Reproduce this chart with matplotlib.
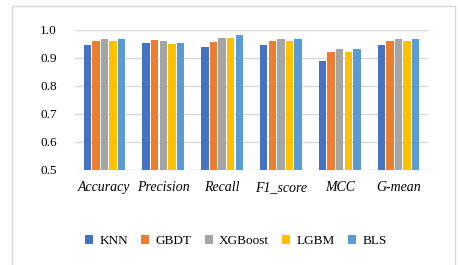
import matplotlib
matplotlib.use("Agg")
import matplotlib.pyplot as plt
import numpy as np
from matplotlib.patches import Rectangle

categories = ["Accuracy", "Precision", "Recall", "F1_score", "MCC", "G-mean"]
models = ["KNN", "GBDT", "XGBoost", "LGBM", "BLS"]
knn = [0.946, 0.954, 0.938, 0.946, 0.890, 0.946]
gbdt = [0.962, 0.964, 0.957, 0.960, 0.920, 0.962]
xgboost = [0.968, 0.961, 0.973, 0.968, 0.932, 0.968]
lgbm = [0.960, 0.949, 0.973, 0.962, 0.920, 0.960]
bls = [0.968, 0.954, 0.983, 0.968, 0.932, 0.968]
series = [knn, gbdt, xgboost, lgbm, bls]
colors = ["#4472C4", "#ED7D31", "#A5A5A5", "#FFC000", "#5B9BD5"]
yticks = [0.5, 0.6, 0.7, 0.8, 0.9, 1.0]

plt.rcParams['font.family'] = ['Liberation Serif', 'DejaVu Serif']

W, H = 458, 265
fig = plt.figure(figsize=(W/100, H/100), dpi=100)
fig.patches.append(Rectangle((12/W, -0.1), (455-12)/W, 1.1 - 6/H, transform=fig.transFigure,
                             fill=False, edgecolor="#D9D9D9", linewidth=1.0))

ax = fig.add_axes([75/W, 1 - 170/H, (428-75)/W, 140/H])
x = np.arange(len(categories))
slot = 0.146
bw = 0.125
for i, (vals, c, m) in enumerate(zip(series, colors, models)):
    ax.bar(x + (i - 2) * slot, vals, width=bw, color=c, label=m, zorder=3)

ax.set_ylim(0.5, 1.0)
ax.set_xlim(-0.5, len(categories) - 0.5)
ax.set_yticks(yticks)
ax.set_yticklabels([f"{v:.1f}" for v in yticks], fontsize=9.5)
ax.set_xticks(x)
ax.set_xticklabels(categories, fontsize=10, style='italic')
ax.tick_params(length=0, pad=8)
ax.tick_params(axis='y', pad=13)
ax.grid(axis='y', color="#D9D9D9", linewidth=1.0, zorder=0)
for s in ax.spines.values():
    s.set_visible(False)

handles, labels = ax.get_legend_handles_labels()
fig.legend(handles, labels, loc='center', bbox_to_anchor=(236/W, 1 - 241/H), ncol=5,
           frameon=False, fontsize=9.5, handlelength=0.6, handleheight=0.6,
           columnspacing=1.0, handletextpad=0.5)

fig.savefig("out.png", dpi=100)
